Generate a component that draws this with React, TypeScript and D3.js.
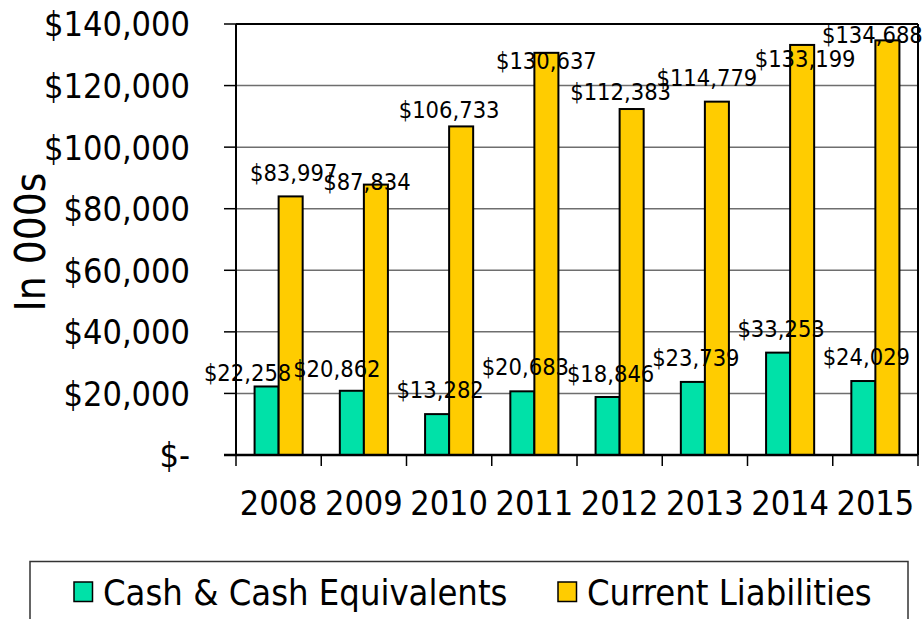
import React from 'react';
import * as d3 from 'd3';

// ---- data ----
const years = ['2008', '2009', '2010', '2011', '2012', '2013', '2014', '2015'];
const cashValues = [22258, 20862, 13282, 20683, 18846, 23739, 33253, 24029];
const liabilityValues = [83997, 87834, 106733, 130637, 112383, 114779, 133199, 134688];
const yTickValues = [0, 20000, 40000, 60000, 80000, 100000, 120000, 140000];
const seriesNames = ['Cash & Cash Equivalents', 'Current Liabilities'];
const axisTitle = 'In 000s';

// ---- label nudges (layout only, px relative to default label spot) ----
const cashLabelNudge = [[-22, 11], [-18, 2], [0, 0], [0, 0], [0, 1], [0, 0], [0, 0], [0, 0]];
const liabLabelNudge = [[0, 1], [-12, 21], [-15, 8], [-3, 32], [-14, 7], [-13, 0], [0, 38], [-18, 19]];

const W = 923;
const H = 619;
const FONT = '"DejaVu Sans Condensed", "DejaVu Sans", Verdana, sans-serif';
const CASH = '#00E1A8';
const LIAB = '#FFCC00';

export default function App() {
  const left = 236, right = 918, top = 24, bottom = 455;
  const x = d3.scaleBand<string>().domain(years).range([left, right]).padding(0);
  const y = d3.scaleLinear().domain([0, 140000]).range([bottom, top]);
  const step = x.step();
  const barW = step * 0.282;
  const off = (step - 2 * barW) / 2;
  const fmt = (v: number) => (v === 0 ? '$-' : '$' + d3.format(',')(v));

  return (
    <svg width={W} height={H} style={{ position: 'absolute', left: 0, top: 0, background: '#fff' }}
      fontFamily={FONT} fontStretch="condensed">
      <rect x={0} y={0} width={W} height={H} fill="#fff" />
      {/* gridlines */}
      {yTickValues.map((t) => (
        <line key={'g' + t} x1={left} x2={right} y1={y(t)} y2={y(t)}
          stroke={t === 140000 || t === 0 ? '#000' : '#6e6e6e'} strokeWidth={t === 140000 ? 2 : 1.5} />
      ))}
      {/* y ticks */}
      {yTickValues.map((t) => (
        <line key={'yt' + t} x1={left - 12} x2={left} y1={y(t)} y2={y(t)} stroke="#000" strokeWidth={1.5} />
      ))}
      {/* y labels */}
      {yTickValues.map((t) => (
        <text key={'yl' + t} x={190} y={y(t) + 12.4} textAnchor="end" fontSize={34} fill="#000">
          {fmt(t)}
        </text>
      ))}
      {/* bars */}
      {years.map((yr, i) => (
        <g key={'b' + yr}>
          <rect x={(x(yr) as number) + off} y={y(cashValues[i])} width={barW}
            height={bottom - y(cashValues[i])} fill={CASH} stroke="#000" strokeWidth={2} />
          <rect x={(x(yr) as number) + off + barW} y={y(liabilityValues[i])} width={barW}
            height={bottom - y(liabilityValues[i])} fill={LIAB} stroke="#000" strokeWidth={2} />
        </g>
      ))}
      {/* frame */}
      <line x1={left} x2={left} y1={top} y2={bottom} stroke="#000" strokeWidth={2} />
      <line x1={right} x2={right} y1={top} y2={bottom} stroke="#000" strokeWidth={2} />
      <line x1={left - 12} x2={right} y1={bottom} y2={bottom} stroke="#000" strokeWidth={2.5} />
      {/* x ticks */}
      {[...years.map((yr) => x(yr) as number), right].map((px, i) => (
        <line key={'xt' + i} x1={px} x2={px} y1={bottom} y2={bottom + 11} stroke="#000" strokeWidth={1.5} />
      ))}
      {/* x labels */}
      {years.map((yr) => (
        <text key={'xl' + yr} x={(x(yr) as number) + step / 2} y={515} textAnchor="middle" fontSize={34} fill="#000">
          {yr}
        </text>
      ))}
      {/* data labels */}
      {years.map((yr, i) => {
        const cx = (x(yr) as number) + off + barW / 2 + 3;
        const lx = (x(yr) as number) + off + barW * 1.5 + 3;
        return (
          <g key={'dl' + yr}>
            <text x={cx + cashLabelNudge[i][0]} y={y(cashValues[i]) - 16 + cashLabelNudge[i][1]}
              textAnchor="middle" fontSize={23.5} fill="#000">{fmt(cashValues[i])}</text>
            <text x={lx + liabLabelNudge[i][0]} y={y(liabilityValues[i]) - 16 + liabLabelNudge[i][1]}
              textAnchor="middle" fontSize={23.5} fill="#000">{fmt(liabilityValues[i])}</text>
          </g>
        );
      })}
      {/* axis title */}
      <text transform="translate(45,242) rotate(-90)" textAnchor="middle" fontSize={42} fill="#000">{axisTitle}</text>
      {/* legend */}
      <rect x={30} y={561.5} width={878} height={80} fill="#fff" stroke="#333" strokeWidth={1.5} />
      <rect x={74} y={582} width={18.5} height={19.5} fill={CASH} stroke="#000" strokeWidth={1.5} />
      <text x={103} y={605} fontSize={36} fill="#000">{seriesNames[0]}</text>
      <rect x={558} y={582} width={18.5} height={19.5} fill={LIAB} stroke="#000" strokeWidth={1.5} />
      <text x={587} y={605} fontSize={36} fill="#000">{seriesNames[1]}</text>
    </svg>
  );
}
